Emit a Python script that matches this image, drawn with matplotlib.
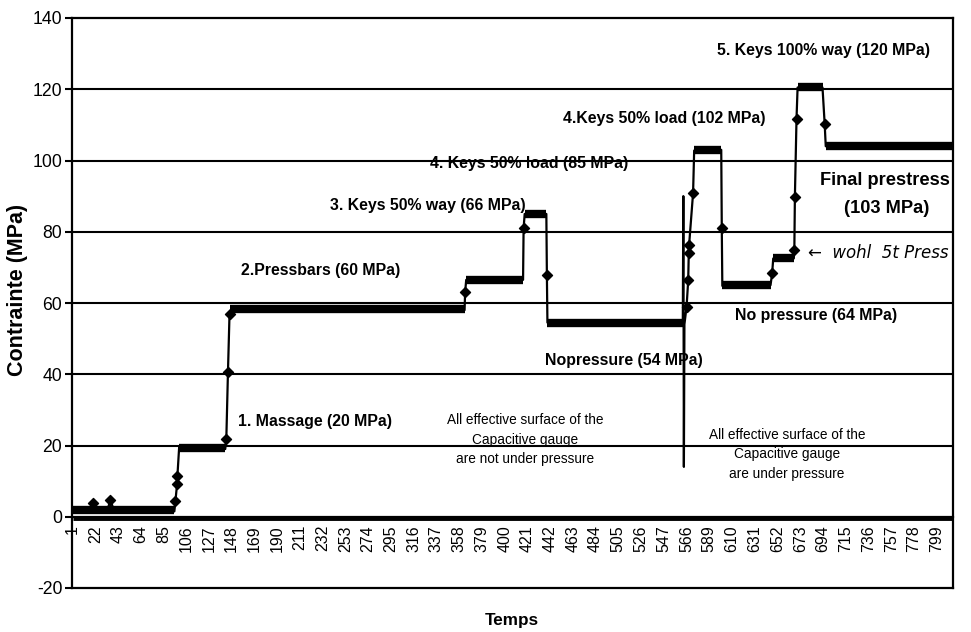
import matplotlib
matplotlib.use("Agg")
import matplotlib.pyplot as plt
from matplotlib import font_manager as fm

# ---------------- data ----------------
# main trace: key time stamps and stress values (MPa)
trace_t = [1, 17, 20, 24, 33, 36, 39, 95, 96, 97.5, 97.8, 99.5, 142, 143, 144.5, 146,
           363, 363.5, 364.5, 417, 417.5, 418.5, 438.5, 439, 439.5, 564.5, 565, 565.5,
           566, 568, 569.5, 570, 570.3, 574, 575, 600, 600.5, 601, 645.5, 647, 648,
           667, 667.5, 668, 669.5, 670.5, 693.5, 695.5, 696.5, 814]
trace_v = [1.2, 1.5, 3.8, 2.0, 1.8, 4.6, 2.0, 1.5, 4.4, 9.1, 11.3, 19.8, 19.0, 21.9, 40.5, 57.5,
           58.0, 63.0, 66.5, 66.5, 81.0, 85.0, 85.0, 67.8, 54.5, 54.0, 90.0, 14.0,
           54.0, 59.0, 66.4, 73.9, 76.2, 90.9, 102.8, 103.0, 81.0, 64.8, 65.0, 68.3, 72.5,
           72.5, 75.0, 89.7, 111.7, 120.5, 120.5, 110.3, 104.0, 104.0]

# individual marked readings on the transitions
mark_t = [20, 36, 96, 97.5, 97.8, 143, 144.5, 146, 363.5, 417.5, 439, 568, 569.5, 570,
          570.3, 574, 600.5, 647, 667.5, 668, 669.5, 695.5]
mark_v = [3.8, 4.6, 4.4, 9.1, 11.3, 21.9, 40.5, 57.0, 63.0, 81.0, 67.8, 59.0, 66.4, 73.9,
          76.2, 90.9, 81.0, 68.3, 75.0, 89.7, 111.7, 110.3]

# plateaus (dense readings drawn as a thick band)
plat_start = [1, 99.5, 146, 364.5, 418.5, 439.5, 575, 601, 648, 670.5, 696.5]
plat_end = [95, 142, 363, 417, 438.5, 565, 600, 645.5, 667, 694, 814]
plat_level = [1.8, 19.2, 58.2, 66.5, 85.0, 54.3, 103.0, 65.0, 72.5, 120.7, 104.0]

# second (reference) gauge, lying on zero
zero_start = [1]
zero_end = [814]
zero_level = [-0.3]

tick_pos = [1, 22, 43, 64, 85, 106, 127, 148, 169, 190, 211, 232, 253, 274, 295, 316, 337,
            358, 379, 400, 421, 442, 463, 484, 505, 526, 547, 568, 589, 610, 631, 652, 673,
            694, 715, 736, 757, 778, 799]
tick_labels = ["1", "22", "43", "64", "85", "106", "127", "148", "169", "190", "211", "232",
               "253", "274", "295", "316", "337", "358", "379", "400", "421", "442", "463",
               "484", "505", "526", "547", "566", "589", "610", "631", "652", "673", "694",
               "715", "736", "757", "778", "799"]
y_ticks = [-20, 0, 20, 40, 60, 80, 100, 120, 140]

# ---------------- fonts ----------------
names = {f.name for f in fm.fontManager.ttflist}
NARROW = "Liberation Sans Narrow" in names
HF = ["Liberation Sans Narrow", "Liberation Sans"] if NARROW else ["Liberation Sans"]
hs = 1.0 if NARROW else 0.82
RF = ["Liberation Sans", "DejaVu Sans"]

fig = plt.figure(figsize=(9.71, 6.32), dpi=100)
ax = fig.add_axes([72 / 971, 1 - 588 / 632, (953 - 72) / 971, (588 - 18) / 632])
ax.set_xlim(0.5, 814)
ax.set_ylim(-20, 140)

# grid lines
for g in [20, 40, 60, 80, 100, 120]:
    ax.axhline(g, color="black", lw=1.5, zorder=1)

# frame
for s in ["left", "top", "right"]:
    ax.spines[s].set_linewidth(1.6)
ax.spines["bottom"].set_position(("data", 0))
ax.spines["bottom"].set_linewidth(1.6)
ax.axhline(-20, color="black", lw=1.6, clip_on=False, zorder=3)

# data
ax.hlines(zero_level, zero_start, zero_end, color="black", lw=3.5, zorder=2)
ax.plot(trace_t, trace_v, color="black", lw=1.6, zorder=4)
ax.hlines(plat_level, plat_start, plat_end, color="black", lw=6.0, zorder=4)
ax.scatter(mark_t, mark_v, marker="D", s=26, color="black", zorder=5)

# ticks
ax.set_yticks(y_ticks)
ax.set_yticklabels([str(v) for v in y_ticks], family=HF, fontsize=15.5 * hs)
ax.tick_params(axis="y", direction="out", length=5, width=1.5, pad=2)
ax.set_xticks(tick_pos)
ax.set_xticklabels(tick_labels, rotation=90, family=RF, fontsize=11.5)
ax.tick_params(axis="x", length=0, pad=6)

# axis titles
fig.text(18 / 971, 1 - 290 / 632, "Contrainte (MPa)", rotation=90, ha="center", va="center",
         fontweight="bold", family=RF, fontsize=15.5)
fig.text(512 / 971, 1 - 621 / 632, "Temps", ha="center", va="center",
         fontweight="bold", family=HF, fontsize=15 * hs)

# annotations
bold = dict(fontweight="bold", family=HF, color="black", zorder=6)
ax.text(154, 26.7, "1. Massage (20 MPa)", ha="left", va="center", fontsize=14 * hs, **bold)
ax.text(157, 69.2, "2.Pressbars (60 MPa)", ha="left", va="center", fontsize=14 * hs, **bold)
ax.text(239, 87.4, "3. Keys 50% way (66 MPa)", ha="left", va="center", fontsize=14 * hs, **bold)
ax.text(331, 99.1, "4. Keys 50% load (85 MPa)", ha="left", va="center", fontsize=14 * hs, **bold)
ax.text(453.6, 111.7, "4.Keys 50% load (102 MPa)", ha="left", va="center", fontsize=14 * hs, **bold)
ax.text(596.3, 130.8, "5. Keys 100% way (120 MPa)", ha="left", va="center", fontsize=14 * hs, **bold)
ax.text(751.5, 94.4, "Final prestress", ha="center", va="center", fontsize=16 * hs, **bold)
ax.text(752.6, 86.5, "(103 MPa)", ha="center", va="center", fontsize=16 * hs, **bold)
ax.text(437.3, 43.9, "Nopressure (54 MPa)", ha="left", va="center", fontsize=14 * hs, **bold)
ax.text(688, 56.6, "No pressure (64 MPa)", ha="center", va="center", fontsize=14 * hs, **bold)

norm = dict(family=HF, color="black", zorder=6, fontsize=12 * hs, linespacing=1.5)
ax.text(419.3, 21.6, "All effective surface of the\nCapacitive gauge\nare not under pressure",
        ha="center", va="center", multialignment="center", **norm)
ax.text(660.6, 17.5, "All effective surface of the\nCapacitive gauge\nare under pressure",
        ha="center", va="center", multialignment="center", **norm)

# handwritten note
ax.text(680, 74, "\u2190  wohl  5t Press", ha="left", va="center", fontsize=12,
        fontstyle="italic", family=["DejaVu Sans"], color="black", clip_on=False, zorder=6)

fig.savefig("out.png", dpi=100)
